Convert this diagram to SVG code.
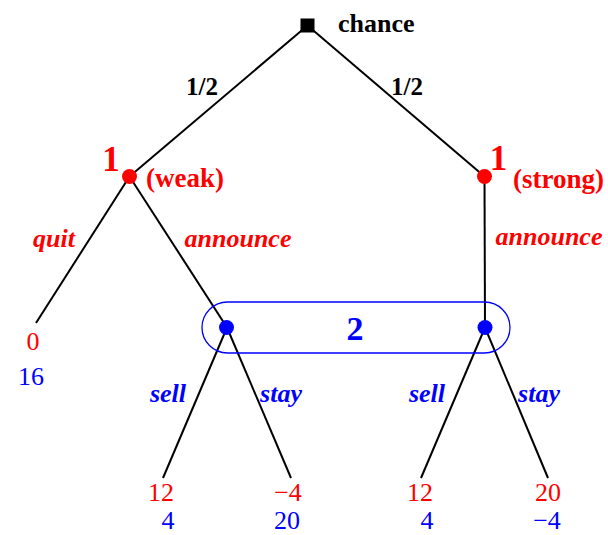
<svg xmlns="http://www.w3.org/2000/svg" width="608" height="535" viewBox="0 0 608 535">
<style>
text{font-family:"Liberation Serif","Times New Roman",serif}
.b{font-weight:bold}
.i{font-weight:bold;font-style:italic}
.r{fill:#ff0000}
.u{fill:#0000ff}
.k{fill:#000}
.e{stroke:#000;stroke-width:2;fill:none}
.m{text-anchor:middle}
.n{font-size:26px;text-anchor:middle}
.l{font-size:26px;text-anchor:middle}
</style>
<rect width="608" height="535" fill="#fff"/>
<g id="connectors">
<line class="e" x1="307.5" y1="25.5" x2="129.5" y2="176.5"/>
<line class="e" x1="307.5" y1="25.5" x2="484.5" y2="176.5"/>
<line class="e" x1="129.5" y1="176.5" x2="36" y2="323"/>
<line class="e" x1="129.5" y1="176.5" x2="227" y2="327.5"/>
<line class="e" x1="484.5" y1="176.5" x2="485" y2="327.5"/>
<line class="e" x1="227" y1="327.5" x2="163" y2="478"/>
<line class="e" x1="227" y1="327.5" x2="291" y2="478"/>
<line class="e" x1="485" y1="327.5" x2="421" y2="478"/>
<line class="e" x1="485" y1="327.5" x2="548" y2="478"/>
<text class="b k m" x="202" y="95" font-size="25">1/2</text>
<text class="b k m" x="407" y="95" font-size="25">1/2</text>
<text class="i r l" x="54" y="247">quit</text>
<text class="i r l" x="238" y="247">announce</text>
<text class="i r l" x="549" y="245">announce</text>
<text class="i u l" x="168" y="402">sell</text>
<text class="i u l" x="281" y="402">stay</text>
<text class="i u l" x="427" y="402">sell</text>
<text class="i u l" x="539" y="402">stay</text>
</g>
<g id="chance">
<rect x="300.5" y="18.5" width="14" height="14" fill="#000"/>
<text class="b k" x="338" y="32" font-size="26">chance</text>
</g>
<g id="weak">
<circle cx="129.5" cy="176.5" r="7.5" fill="#ff0000"/>
<text class="b r m" x="111" y="171" font-size="35">1</text>
<text class="b r" x="146" y="187" font-size="27">(weak)</text>
</g>
<g id="strong">
<circle cx="484.5" cy="176.5" r="7.5" fill="#ff0000"/>
<text class="b r m" x="498.5" y="170" font-size="35">1</text>
<text class="b r" x="513" y="188" font-size="27">(strong)</text>
</g>
<g id="infoset">
<rect x="202" y="302" width="308" height="51" rx="25.5" ry="25.5" fill="none" stroke="#0000ff" stroke-width="1.3"/>
<text class="b u m" x="355" y="340" font-size="34">2</text>
</g>
<g id="p2a"><circle cx="226.5" cy="327.5" r="7.5" fill="#0000ff"/></g>
<g id="p2b"><circle cx="485" cy="327.5" r="7.5" fill="#0000ff"/></g>
<g id="leaf-quit">
<text class="r n" x="33" y="350">0</text>
<text class="u n" x="31" y="385">16</text>
</g>
<g id="leaf1">
<text class="r n" x="161" y="501">12</text>
<text class="u n" x="168" y="529">4</text>
</g>
<g id="leaf2">
<text class="r n" x="288" y="501">−4</text>
<text class="u n" x="287" y="529">20</text>
</g>
<g id="leaf3">
<text class="r n" x="420" y="501">12</text>
<text class="u n" x="427" y="529">4</text>
</g>
<g id="leaf4">
<text class="r n" x="548" y="501">20</text>
<text class="u n" x="547" y="529">−4</text>
</g>
</svg>
